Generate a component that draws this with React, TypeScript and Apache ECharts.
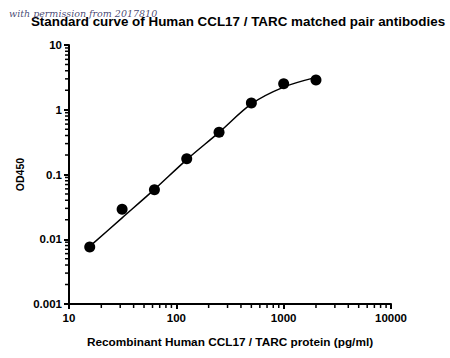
import React, { useEffect, useRef } from "react";
import * as echarts from "echarts";

const concentrations = [15.6, 31.25, 62.5, 125, 250, 500, 1000, 2000];
const od450 = [0.0076, 0.029, 0.058, 0.175, 0.45, 1.27, 2.53, 2.89];

const curveX = [15.6, 31.25, 62.5, 125, 250, 500, 1000, 2000];
const curveY = [0.00776, 0.0214, 0.0589, 0.17, 0.447, 1.23, 2.24, 3.16];

const minorMult = [2, 3, 4, 5, 6, 7, 8, 9];
const xMinorDecades = [10, 100, 1000];
const yMinorDecades = [0.001, 0.01, 0.1, 1];

const xMinor: number[] = [];
xMinorDecades.forEach((d) => minorMult.forEach((m) => xMinor.push(d * m)));
const yMinor: number[] = [];
yMinorDecades.forEach((d) =>
  minorMult.forEach((m) => yMinor.push(parseFloat((d * m).toPrecision(3))))
);

const FONT = "Liberation Sans, Arial, sans-serif";

const fmt = (v: number) => String(parseFloat(Number(v).toPrecision(3)));

export default function App() {
  const ref = useRef<HTMLDivElement>(null);
  useEffect(() => {
    if (!ref.current) return;
    const chart = echarts.init(ref.current, null, { renderer: "svg" });
    chart.setOption({
      animation: false,
      backgroundColor: "#ffffff",
      title: {
        text: "Standard curve of Human CCL17 / TARC matched pair antibodies",
        left: 233,
        top: 10,
        textAlign: "center",
        textStyle: { fontFamily: FONT, fontSize: 13.4, fontWeight: "bold", color: "#000" },
      },
      graphic: [
        {
          type: "text",
          left: 9,
          top: 8,
          z: 100,
          style: {
            text: "with permission from 2017810",
            fontFamily: "DejaVu Serif, serif",
            fontStyle: "italic",
            fontSize: 9.5,
            fill: "rgba(40,40,90,0.85)",
          },
        },
      ],
      grid: { left: 69, right: 59, top: 45, bottom: 54, containLabel: false },
      xAxis: {
        type: "log",
        logBase: 10,
        min: 10,
        max: 10000,
        name: "Recombinant Human CCL17 / TARC protein (pg/ml)",
        nameLocation: "middle",
        nameGap: 32,
        nameMoveOverlap: false,
        nameTextStyle: { fontFamily: FONT, fontSize: 11.8, fontWeight: "bold", color: "#000" },
        axisLine: { lineStyle: { color: "#000", width: 2 } },
        axisTick: { lineStyle: { color: "#000", width: 2 }, length: 5 },
        axisLabel: {
          fontFamily: FONT,
          fontSize: 11.5,
          fontWeight: "bold",
          color: "#000",
          margin: 8,
          formatter: (v: number) => fmt(v),
        },
        splitLine: { show: false },
      },
      yAxis: {
        type: "log",
        logBase: 10,
        min: 0.001,
        max: 10,
        name: "OD450",
        nameLocation: "middle",
        nameGap: 44,
        nameMoveOverlap: false,
        nameTextStyle: { fontFamily: FONT, fontSize: 10.5, fontWeight: "bold", color: "#000" },
        axisLine: { lineStyle: { color: "#000", width: 2 } },
        axisTick: { lineStyle: { color: "#000", width: 2 }, length: 5 },
        axisLabel: {
          fontFamily: FONT,
          fontSize: 11.5,
          fontWeight: "bold",
          color: "#000",
          margin: 7,
          formatter: (v: number) => fmt(v),
        },
        splitLine: { show: false },
      },
      series: [
        {
          type: "line",
          data: curveX.map((x, i) => [x, curveY[i]]),
          smooth: 0.3,
          showSymbol: false,
          lineStyle: { color: "#000", width: 1.5 },
          z: 2,
        },
        {
          type: "scatter",
          data: concentrations.map((x, i) => [x, od450[i]]),
          symbol: "circle",
          symbolSize: 11,
          itemStyle: { color: "#000", opacity: 1 },
          z: 3,
        },
        {
          type: "custom",
          clip: false,
          data: xMinor.map((x) => [x, 0.001]),
          renderItem: (params: any, api: any) => {
            const p = api.coord([api.value(0), 0.001]);
            return {
              type: "line",
              shape: { x1: p[0], y1: p[1], x2: p[0], y2: p[1] + 4 },
              style: { stroke: "#000", lineWidth: 1.5 },
            };
          },
          z: 4,
        },
        {
          type: "custom",
          clip: false,
          data: yMinor.map((y) => [10, y]),
          renderItem: (params: any, api: any) => {
            const p = api.coord([10, api.value(1)]);
            return {
              type: "line",
              shape: { x1: p[0] - 4, y1: p[1], x2: p[0], y2: p[1] },
              style: { stroke: "#000", lineWidth: 1.5 },
            };
          },
          z: 4,
        },
      ],
    });
    return () => chart.dispose();
  }, []);
  return (
    <div
      ref={ref}
      style={{ position: "absolute", left: 0, top: 0, width: 450, height: 358 }}
    />
  );
}
